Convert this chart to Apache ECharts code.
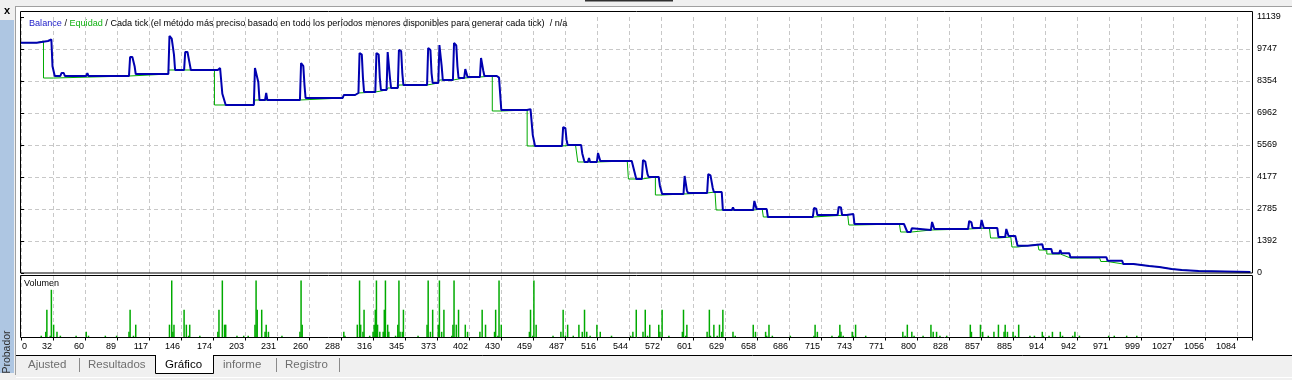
<!DOCTYPE html>
<html><head><meta charset="utf-8">
<script src="https://cdn.jsdelivr.net/npm/echarts@6/dist/echarts.min.js"></script>
<style>html,body{margin:0;padding:0;background:#fff;}#c{width:1292px;height:380px;}</style>
</head><body><div id="c"></div>
<script>
// ---- data ----
const yTickLabels = ['0','1392','2785','4177','5569','6962','8354','9747','11139'];
const xTickLabels = ['0','32','60','89','117','146','174','203','231','260','288','316','345','373','402','430','459','487','516','544','572','601','629','658','686','715','743','771','800','828','857','885','914','942','971','999','1027','1056','1084'];
const balance = [
[0,10020],[14,10020],[15,10094],[24,10094],[25,10160],[27,10160],[28,9000],[30,8571],
[35,8571],[36,8702],[38,8702],[39,8571],[58,8571],[59,8702],[60,8571],
[96,8571],[97,9398],[99,9398],[101,9000],[102,8658],
[131,8658],[132,10312],[134,10200],[136,9500],[137,8833],
[145,8833],[146,9616],[148,9616],[150,9100],[151,8833],
[175,8833],[176,8920],[177,8920],[179,7800],[182,7310],
[207,7310],[208,8920],[209,8920],[211,8300],[212,7527],
[217,7527],[218,7832],[219,7527],
[248,7527],[249,9137],[251,9000],[252,8200],[253,7614],
[286,7614],[287,7745],[297,7745],[298,7832],
[300,7832],[301,9572],[303,9500],[304,8500],[305,7875],
[315,7875],[316,9572],[318,9500],[319,8500],[320,7962],
[325,7962],[326,9616],[327,9600],[328,8500],[329,8050],
[335,8050],[336,9703],[338,9650],[339,8700],[340,8180],
[361,8180],[362,9790],[364,9700],[365,8700],[366,8267],
[371,8267],[372,9920],[373,9850],[374,9000],[375,8397],
[384,8397],[385,10007],[387,9900],[388,9000],[389,8484],
[394,8484],[395,8876],[396,8876],[397,8528],
[408,8528],[409,9355],[410,9300],[411,8800],[412,8571],
[423,8571],[424,8650],[425,8500],[427,7092],
[450,7092],[451,7130],[453,7130],[455,6000],[457,5526],
[481,5526],[482,6352],[484,6300],[485,5800],[486,5569],
[498,5569],[499,5200],[501,4830],
[504,4830],[505,5000],[506,4830],
[512,4830],[513,5221],[514,5221],[515,4873],
[543,4873],[544,4800],[547,4090],
[552,4090],[553,4917],[555,4850],[557,4300],[558,4177],
[567,4177],[568,3800],[570,3437],
[589,3437],[590,4220],[591,4150],[592,3600],[593,3481],
[610,3481],[611,4307],[613,4250],[615,3700],[616,3524],
[623,3524],[624,2741],
[632,2741],[633,2850],[634,2741],
[651,2741],[652,3133],[653,3100],[654,2780],
[663,2780],[664,2437],
[704,2437],[705,2828],[707,2800],[708,2524],
[726,2524],[727,2872],[729,2850],[730,2524],
[734,2524],[735,2567],[740,2567],[741,2132],
[785,2132],[788,1784],
[791,1784],[792,1950],[793,1871],
[809,1871],[810,2219],[811,2150],[812,1914],
[818,1914],[819,1990],[820,1914],
[842,1914],[843,2263],[845,2200],[846,1958],
[853,1958],[854,2306],[855,2250],[856,1958],
[868,1958],[869,1566],
[875,1566],[876,1914],[877,1870],[878,1610],
[884,1610],[886,1188],
[895,1188],[896,1249],[908,1249],[909,1044],
[916,1044],[917,857],[923,857],[924,1000],[925,857],
[932,857],[933,683],
[965,683],[966,535],
[979,535],[980,392],
[989,392],[990,305],
[1003,305],[1004,261],
[1012,261],[1013,174],
[1023,174],[1024,131],
[1032,131],[1033,87],
[1047,87],[1048,44],
[1093,44]
];
const equity = [
[0,10020],[14,10020],[15,10094],[20,10094],[20,8484],[29,8484],[30,8571],
[96,8571],[96,8658],[131,8658],[131,8833],[172,8833],[172,7310],
[207,7310],[208,7527],[248,7527],[249,7614],[286,7614],[287,7745],[297,7745],[298,7832],
[300,7832],[301,7875],[315,7875],[316,7962],[325,7962],[326,8050],[335,8050],[336,8180],
[361,8180],[362,8267],[371,8267],[372,8397],[384,8397],[385,8484],[394,8484],[395,8528],
[408,8528],[409,8571],[419,8571],[419,7049],[427,7049],[427,7092],
[450,7092],[450,5526],[481,5526],[482,5569],[493,5569],[495,4830],[512,4830],[513,4873],
[539,4873],[540,4090],[552,4090],[553,4177],[564,4177],[564,3394],[570,3394],[571,3437],
[589,3437],[590,3481],[610,3481],[611,3524],[617,3524],[618,2741],[651,2741],[652,2780],
[659,2780],[660,2437],[704,2437],[705,2524],[735,2524],[736,2088],[741,2088],[741,2132],
[781,2132],[782,1784],[792,1784],[793,1871],[809,1871],[810,1914],[842,1914],[843,1958],
[861,1958],[862,1523],[869,1523],[870,1566],[880,1566],[881,1131],[886,1131],[886,1188],
[895,1188],[896,1249],[904,1249],[905,1000],[912,1000],[912,826],[924,826],[933,653],
[959,653],[960,500],[966,500],[980,392],[989,392],[990,305],[1003,305],[1004,261],
[1012,261],[1013,174],[1023,174],[1024,131],[1032,131],[1033,87],[1047,87],[1048,44],[1093,44]
];
const volume = [
[18,0.0025],[22,0.008],[23,0.039],[26,0.0025],[27,0.067],[29,0.018],[32,0.008],[35,0.0025],
[49,0.0025],[58,0.008],[60,0.0025],[75,0.0025],[85,0.0025],[96,0.008],[97,0.039],[100,0.0025],[102,0.018],
[132,0.018],[134,0.08],[135,0.008],[136,0.018],[145,0.039],[147,0.018],[149,0.0025],[150,0.018],[159,0.0025],
[175,0.008],[176,0.039],[179,0.08],[181,0.018],[182,0.018],[192,0.0025],[198,0.0025],[202,0.0025],
[208,0.018],[209,0.08],[210,0.039],[214,0.039],[217,0.008],[218,0.018],[220,0.008],[232,0.0025],
[248,0.008],[249,0.08],[250,0.018],[287,0.008],[288,0.0025],
[299,0.018],[301,0.08],[302,0.018],[304,0.008],[305,0.039],[310,0.0025],[313,0.008],[314,0.018],
[315,0.039],[316,0.08],[317,0.018],[319,0.008],[322,0.008],[323,0.039],[324,0.08],[326,0.018],[327,0.008],
[333,0.0025],[335,0.018],[336,0.08],[337,0.008],[339,0.008],[340,0.039],[353,0.0025],
[361,0.018],[362,0.08],[364,0.008],[366,0.039],[371,0.018],[372,0.08],[374,0.008],[376,0.039],
[383,0.0025],[384,0.018],[385,0.08],[387,0.018],[389,0.039],[395,0.018],[397,0.008],
[408,0.008],[410,0.039],[413,0.018],[421,0.008],[422,0.039],[424,0.0025],[425,0.08],[427,0.018],
[452,0.008],[453,0.039],[455,0.0025],[456,0.08],[458,0.018],[473,0.0025],
[480,0.008],[482,0.039],[484,0.0025],[486,0.018],[491,0.0025],[496,0.018],[499,0.008],[501,0.039],
[503,0.008],[506,0.0025],[512,0.018],[515,0.008],[525,0.0025],
[542,0.0025],[544,0.008],[547,0.039],[553,0.008],[555,0.039],[557,0.0025],[559,0.018],
[567,0.018],[568,0.008],[570,0.039],[576,0.0025],[588,0.008],[589,0.039],[591,0.0025],[592,0.018],
[610,0.008],[612,0.039],[613,0.0025],[616,0.018],[619,0.0025],[621,0.018],[623,0.008],[624,0.039],
[633,0.008],[635,0.0025],[651,0.018],[653,0.008],[662,0.008],[663,0.0025],[665,0.018],[668,0.0025],
[684,0.0025],[705,0.0025],[706,0.018],[708,0.008],[721,0.0025],[727,0.0025],[728,0.018],[729,0.008],
[731,0.0025],[739,0.008],[740,0.0025],[742,0.018],[751,0.0025],
[784,0.008],[786,0.0025],[788,0.018],[792,0.008],[794,0.0025],[802,0.0025],[809,0.018],[811,0.008],
[814,0.008],[817,0.0025],[823,0.0025],[844,0.018],[845,0.008],[853,0.018],[855,0.008],[860,0.0025],
[865,0.008],[869,0.018],[874,0.008],[875,0.018],[877,0.008],[882,0.008],[884,0.0025],[887,0.018],
[897,0.0025],[901,0.0025],[908,0.008],[909,0.0025],[914,0.0025],[917,0.008],[924,0.008],[926,0.0025],
[935,0.0025],[937,0.008],[941,0.0025],[967,0.0025],[972,0.0025],[983,0.0025],[992,0.0025]
];
const titleParts = ['Balance', 'Equidad', 'Cada tick (el método más preciso basado en todo los períodos menores disponibles para generar cada tick)', 'n/a'];
const tabs = ['Ajusted', 'Resultados', 'Gráfico', 'informe', 'Registro'];

// ---- scales ----
const xStep = 28.45, xMax = xStep * 1231 / 32;
const yStep = 1392.375, yMax = yStep * 8;
const volMax = 0.08 * 61.5 / 57;
const FONT = '"Liberation Sans", Arial, sans-serif';
const BLUE = '#0000b0', GREEN = '#00aa00';
const gridLine = {show: true, lineStyle: {color: '#c8c8c8', type: [4, 3], width: 1}};

function xLab(v) {
  const i = Math.round(v / xStep);
  if (Math.abs(v - i * xStep) > 0.01) return '';
  return xTickLabels[i] || '';
}
function yLab(v) {
  const i = Math.round(v / yStep);
  if (Math.abs(v - i * yStep) > 0.01) return '';
  return yTickLabels[i] || '';
}

const chart = echarts.init(document.getElementById('c'), null, {renderer: 'canvas'});
const tabX = [28, 88, 165, 223, 285];
const sepX = [79, 276, 339];
const graphics = [
  {type: 'rect', shape: {x: 0, y: 0, width: 1292, height: 6}, style: {fill: '#f0f0f0'}, z: -10},
  {type: 'line', shape: {x1: 16, y1: 6.5, x2: 1292, y2: 6.5}, style: {stroke: '#a0a0a0', lineWidth: 1}},
  {type: 'rect', shape: {x: 585, y: 0, width: 88, height: 1.5}, style: {fill: '#303030'}},
  {type: 'rect', shape: {x: 0, y: 0, width: 16, height: 380}, style: {fill: '#f0f0f0'}, z: -10},
  {type: 'rect', shape: {x: 0, y: 20, width: 14, height: 353}, style: {fill: '#aec6e2'}},
  {type: 'line', shape: {x1: 15.5, y1: 6, x2: 15.5, y2: 375}, style: {stroke: '#a0a0a0', lineWidth: 1}},
  {type: 'text', x: 7, y: 11, style: {text: 'x', font: 'bold 11px ' + FONT, fill: '#000', align: 'center', verticalAlign: 'middle'}},
  {type: 'text', x: 7.5, y: 352, rotation: Math.PI / 2, style: {text: 'Probador', font: '10.5px ' + FONT, fill: '#303030', align: 'center', verticalAlign: 'middle'}},
  {type: 'rect', shape: {x: 16, y: 355, width: 1276, height: 25}, style: {fill: '#f0f0f0'}, z: -10},
  {type: 'line', shape: {x1: 16, y1: 355.5, x2: 155, y2: 355.5}, style: {stroke: '#000', lineWidth: 1}},
  {type: 'line', shape: {x1: 213, y1: 355.5, x2: 1292, y2: 355.5}, style: {stroke: '#000', lineWidth: 1}},
  {type: 'line', shape: {x1: 16, y1: 377.5, x2: 1292, y2: 377.5}, style: {stroke: '#ffffff', lineWidth: 1}},
  {type: 'rect', shape: {x: 155, y: 355, width: 58, height: 19}, style: {fill: '#ffffff'}},
  {type: 'polyline', shape: {points: [[155.5, 355], [155.5, 373.5], [213.5, 373.5], [213.5, 355]]}, style: {stroke: '#000', fill: null, lineWidth: 1}},
  {type: 'rect', shape: {x: 20.5, y: 11.5, width: 1232, height: 261.5}, style: {stroke: '#000', fill: null, lineWidth: 1}, z: 50},
  {type: 'rect', shape: {x: 20.5, y: 275.5, width: 1232, height: 62}, style: {stroke: '#000', fill: null, lineWidth: 1}, z: 50},
  {type: 'text', x: 24, y: 284, style: {text: 'Volumen', font: '9px ' + FONT, fill: '#000', verticalAlign: 'middle'}}
];
tabs.forEach((t, i) => {
  graphics.push({type: 'text', x: tabX[i], y: 365, style: {text: t, font: '11.5px ' + FONT, fill: i === 2 ? '#000' : '#6e6e6e', verticalAlign: 'middle'}});
});
sepX.forEach(x => {
  graphics.push({type: 'line', shape: {x1: x + 0.5, y1: 358, x2: x + 0.5, y2: 372}, style: {stroke: '#8a8a8a', lineWidth: 1}});
});

chart.setOption({
  animation: false,
  backgroundColor: '#ffffff',
  textStyle: {fontFamily: FONT},
  title: {
    left: 24, top: 14,
    text: '{b|' + titleParts[0] + '} / {g|' + titleParts[1] + '} / ' + titleParts[2] + '  / ' + titleParts[3],
    textStyle: {fontSize: 9.1, fontWeight: 'normal', color: '#000', fontFamily: FONT,
      rich: {b: {color: '#1a1ac8', fontSize: 9.1, fontFamily: FONT}, g: {color: '#10b010', fontSize: 9.1, fontFamily: FONT}}}
  },
  grid: [
    {left: 21, right: 40, top: 17, height: 256, show: false},
    {left: 21, right: 40, top: 276, height: 61.5, show: false}
  ],
  xAxis: [
    {type: 'value', gridIndex: 0, min: 0, max: xMax, interval: xStep,
     axisLine: {show: false}, axisTick: {show: false}, axisLabel: {show: false},
     splitLine: gridLine},
    {type: 'value', gridIndex: 1, min: 0, max: xMax, interval: xStep,
     axisLine: {show: false},
     axisTick: {show: true, length: 3, lineStyle: {color: '#000'}},
     axisLabel: {show: true, formatter: xLab, align: 'right', alignMinLabel: 'left', margin: 5, padding: [0, 1, 0, 1],
       fontSize: 9, color: '#000', fontFamily: FONT, showMaxLabel: true},
     splitLine: gridLine}
  ],
  yAxis: [
    {type: 'value', gridIndex: 0, position: 'right', min: 0, max: yMax, interval: yStep,
     axisLine: {show: false},
     axisTick: {show: true, length: 3, lineStyle: {color: '#000'}},
     axisLabel: {show: true, formatter: yLab, margin: 5, fontSize: 9, color: '#000', fontFamily: FONT},
     splitLine: Object.assign({showMaxLine: false, showMinLine: false}, gridLine)},
    {type: 'value', gridIndex: 1, min: 0, max: volMax, show: false, splitLine: {show: false}}
  ],
  series: [
    {type: 'bar', name: 'Volumen', xAxisIndex: 1, yAxisIndex: 1, data: volume, barWidth: 1.5,
     itemStyle: {color: GREEN}, silent: true},
    {type: 'line', name: 'Equidad', xAxisIndex: 0, yAxisIndex: 0, data: equity, showSymbol: false,
     lineStyle: {color: GREEN, width: 1}, z: 3, silent: true},
    {type: 'line', name: 'Balance', xAxisIndex: 0, yAxisIndex: 0, data: balance, showSymbol: false,
     lineStyle: {color: BLUE, width: 2}, z: 4, silent: true}
  ],
  graphic: graphics
});
</script>
</body></html>
